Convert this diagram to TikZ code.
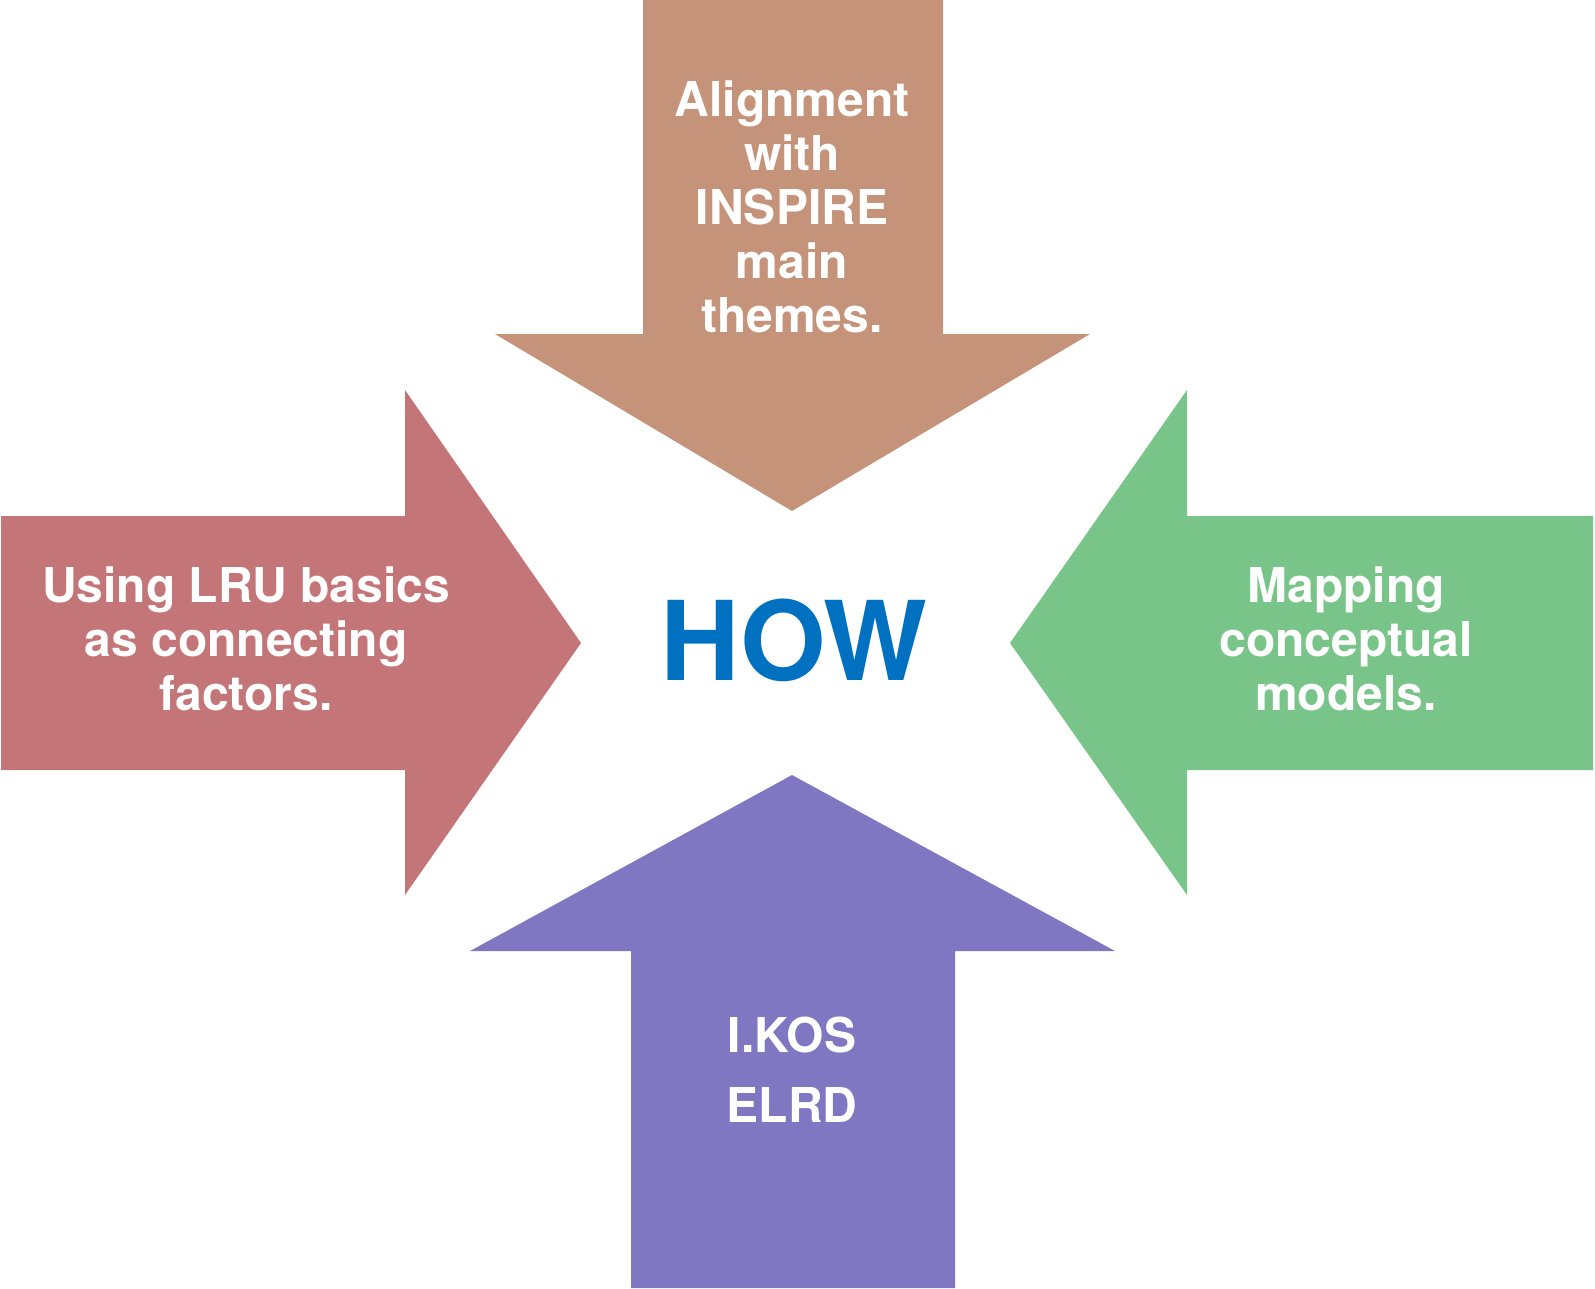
\documentclass[tikz,border=0pt]{standalone}
\usepackage{fontspec}
\setmainfont{TeX Gyre Heros}
\definecolor{cbrown}{HTML}{C5937A}
\definecolor{cred}{HTML}{C47577}
\definecolor{cgreen}{HTML}{79C589}
\definecolor{cpurple}{HTML}{7F77C2}
\definecolor{cblue}{HTML}{0070C0}
\begin{document}
\begin{tikzpicture}[x=1pt,y=-1pt,
  lbl/.style={text=white,font=\bfseries\fontsize{48}{54}\selectfont,align=center,inner sep=0pt,anchor=base}]
\useasboundingbox (0,0) rectangle (1595,1288);
% top arrow
\fill[cbrown] (643,0) -- (943,0) -- (943,334) -- (1090,334) -- (792,511) -- (495,334) -- (643,334) -- cycle;
% left arrow
\fill[cred] (1,516) -- (405,516) -- (405,390) -- (581,643) -- (405,895) -- (405,770) -- (1,770) -- cycle;
% right arrow
\fill[cgreen] (1593,516) -- (1187,516) -- (1187,390) -- (1010,643) -- (1187,895) -- (1187,770) -- (1593,770) -- cycle;
% bottom arrow
\fill[cpurple] (631,1288) -- (955,1288) -- (955,951) -- (1115,951) -- (792,775) -- (470,951) -- (631,951) -- cycle;
% texts (base anchor = baseline of last line)
\node[lbl] (top) at (792,332) {Alignment\\with\\INSPIRE\\main\\themes.};
\node[lbl] (left) at (246,710) {Using LRU basics\\as connecting\\factors.};
\node[lbl] (right) at (1346,710) {Mapping\\conceptual\\models.};
\node[lbl,font=\bfseries\fontsize{48}{70}\selectfont] (bottom) at (792,1122) {I.KOS\\ELRD};
\node[text=cblue,font=\bfseries\fontsize{110}{120}\selectfont,inner sep=0pt,anchor=base] (how) at (794,680) {HOW};
\end{tikzpicture}
\end{document}
